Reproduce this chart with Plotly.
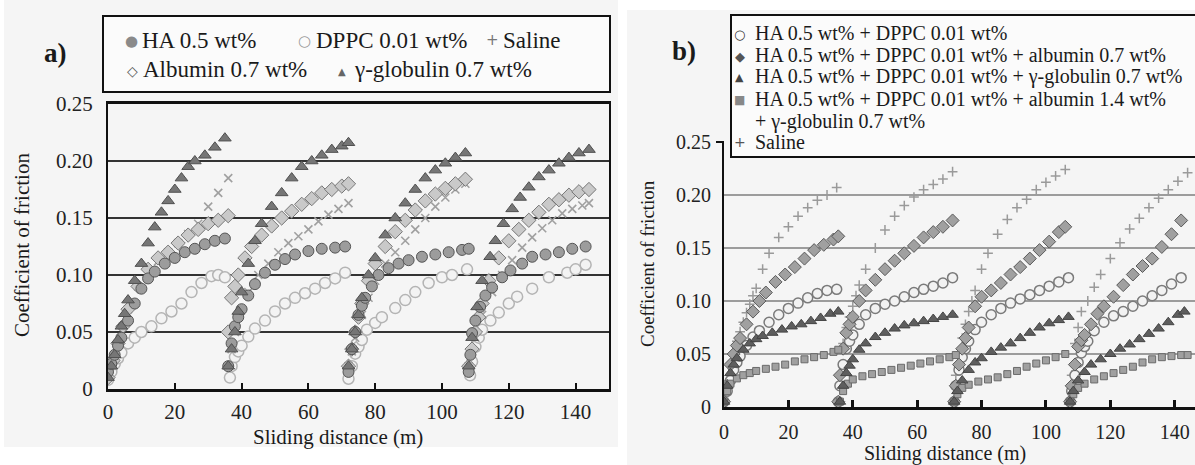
import plotly.graph_objects as go

W, H = 1195, 465
def PX(px):
    return px / W
def PY(py):
    return 1 - py / H

SERIF = "Liberation Serif"
GLYPH = "DejaVu Sans"

# ---------------- Panel a data ----------------
A_HA_x = [0, 1, 2, 3, 4, 6, 8, 10, 12, 14, 17, 20, 23, 26, 29, 32, 35,
          36, 37, 38, 39, 40, 42, 44, 47, 50, 53, 56, 60, 64, 68, 71,
          72, 73, 74, 75, 76, 77, 79, 81, 84, 87, 90, 94, 98, 102, 106, 108,
          108, 108.5, 109, 110, 111.4, 113, 115, 118, 120.5, 124, 127, 131, 135, 139, 143]
A_HA_y = [0.015, 0.022, 0.03, 0.038, 0.045, 0.06, 0.075, 0.088, 0.097, 0.103, 0.11, 0.115, 0.12, 0.123, 0.127, 0.13, 0.132,
          0.02, 0.04, 0.055, 0.063, 0.07, 0.082, 0.092, 0.102, 0.109, 0.114, 0.118, 0.121, 0.123, 0.124, 0.125,
          0.015, 0.035, 0.05, 0.065, 0.073, 0.08, 0.09, 0.1, 0.106, 0.11, 0.113, 0.116, 0.118, 0.12, 0.122, 0.123,
          0.015, 0.03, 0.049, 0.06, 0.072, 0.082, 0.089, 0.098, 0.104, 0.11, 0.116, 0.118, 0.12, 0.123, 0.125]

A_DPPC_x = [0, 1, 2, 3, 4, 6, 8, 10, 13, 16, 19, 22, 25, 28, 31, 33, 35,
            36.5, 37, 38, 39, 40, 42, 44, 47, 50, 53, 56, 59, 62, 65, 68, 71,
            72, 73, 74, 75, 76, 77.5, 80, 82, 86, 89, 92, 96, 100, 103, 107.5,
            108.4, 109, 110, 111, 112, 114.5, 117, 120, 122.5, 127, 132, 137.5, 140, 143]
A_DPPC_y = [0.008, 0.015, 0.022, 0.027, 0.032, 0.04, 0.045, 0.05, 0.055, 0.062, 0.068, 0.075, 0.085, 0.093, 0.099, 0.1, 0.098,
            0.01, 0.02, 0.028, 0.033, 0.038, 0.046, 0.053, 0.06, 0.068, 0.075, 0.08, 0.084, 0.088, 0.093, 0.097, 0.102,
            0.009, 0.02, 0.031, 0.037, 0.043, 0.052, 0.058, 0.063, 0.071, 0.078, 0.085, 0.093, 0.098, 0.1, 0.105,
            0.012, 0.024, 0.037, 0.045, 0.052, 0.06, 0.067, 0.075, 0.081, 0.088, 0.098, 0.102, 0.105, 0.109]

A_SAL_x = [0, 1.5, 3, 4.5, 6, 9, 12, 15, 18, 21, 24, 27, 30, 33, 36,
           36, 37, 38, 40, 42, 45, 48, 51, 54, 57, 60, 63, 66, 69, 72,
           72, 73, 74, 76, 78, 80, 83, 86, 89, 92, 95, 98, 101, 104, 107,
           108, 109, 110, 112, 115, 118, 121, 124, 127, 130, 133, 136, 139, 142, 144]
A_SAL_y = [0.01, 0.025, 0.04, 0.055, 0.07, 0.09, 0.103, 0.112, 0.12, 0.128, 0.136, 0.145, 0.16, 0.172, 0.185,
           0.02, 0.035, 0.05, 0.07, 0.085, 0.1, 0.11, 0.12, 0.128, 0.134, 0.14, 0.147, 0.153, 0.158, 0.163,
           0.02, 0.033, 0.045, 0.065, 0.08, 0.095, 0.11, 0.12, 0.13, 0.14, 0.15, 0.16, 0.168, 0.175, 0.18,
           0.02, 0.033, 0.045, 0.065, 0.085, 0.1, 0.113, 0.124, 0.133, 0.141, 0.148, 0.154, 0.158, 0.161, 0.163]

A_ALB_x = [0, 1.5, 3, 4.5, 6, 9, 12, 15, 18, 21, 24, 27, 30, 33, 36,
           36, 37, 38, 39, 41, 43, 46, 49, 52, 55, 58, 61, 64, 67, 70, 72,
           72, 73, 74, 75, 76, 78, 80, 83, 86, 89, 92, 95, 98, 101, 104, 107,
           108, 109, 110, 111, 112, 114, 117, 120, 123, 126, 129, 132, 135, 138, 141, 144]
A_ALB_y = [0.01, 0.025, 0.04, 0.055, 0.07, 0.09, 0.105, 0.115, 0.12, 0.128, 0.135, 0.14, 0.145, 0.148, 0.152,
           0.05, 0.08, 0.09, 0.1, 0.115, 0.125, 0.135, 0.143, 0.15, 0.156, 0.162, 0.167, 0.172, 0.175, 0.178, 0.18,
           0.02, 0.035, 0.05, 0.063, 0.075, 0.095, 0.11, 0.125, 0.138, 0.148, 0.157, 0.165, 0.171, 0.176, 0.18, 0.184,
           0.02, 0.035, 0.05, 0.063, 0.075, 0.095, 0.115, 0.13, 0.14, 0.148, 0.155, 0.162, 0.166, 0.17, 0.173, 0.175]

A_GAM_x = [0, 1, 2, 3, 4, 5, 6, 8, 10, 12, 14, 16, 18, 20, 22, 24, 26, 29, 32, 35,
           36, 37, 38, 39, 40, 42, 44, 46, 49, 52, 55, 58, 61, 64, 67, 70, 72,
           72, 73, 74, 75, 76, 78, 80, 83, 86, 89, 92, 95, 98, 101, 104, 107,
           108, 109, 110.5, 112, 114.4, 116, 118.4, 121, 123.4, 126, 129, 132, 135, 138, 141, 144]
A_GAM_y = [0.01, 0.02, 0.03, 0.043, 0.055, 0.066, 0.078, 0.095, 0.11, 0.128, 0.142, 0.155, 0.165, 0.175, 0.185, 0.195, 0.2, 0.205, 0.212, 0.22,
           0.02, 0.035, 0.05, 0.068, 0.085, 0.11, 0.13, 0.145, 0.16, 0.172, 0.185, 0.195, 0.2, 0.205, 0.21, 0.213, 0.216,
           0.02, 0.035, 0.05, 0.065, 0.08, 0.1, 0.115, 0.135, 0.15, 0.163, 0.175, 0.185, 0.192, 0.198, 0.203, 0.207,
           0.02, 0.045, 0.072, 0.095, 0.116, 0.13, 0.145, 0.158, 0.168, 0.177, 0.186, 0.192, 0.198, 0.203, 0.207, 0.21]

# ---------------- Panel b data ----------------
B_SAL_x = [0, 1, 2, 3, 4, 5, 6, 7, 8, 9, 10, 12, 14, 17, 20, 23, 26, 29, 32, 35,
           36, 37, 38, 39, 40, 41, 42, 44, 47, 50, 53, 56, 59, 62, 65, 68, 71,
           72, 73, 74, 75, 76, 77, 78, 80, 82, 85, 88, 91, 94, 97, 100, 103, 106,
           108, 109, 110, 111, 113, 115, 117, 120, 123, 126, 129, 132, 135, 138, 141, 144]
B_SAL_y = [0.01, 0.025, 0.04, 0.05, 0.062, 0.071, 0.08, 0.089, 0.097, 0.105, 0.112, 0.13, 0.145, 0.16, 0.17, 0.18, 0.188, 0.195, 0.2, 0.207,
           0.03, 0.06, 0.075, 0.085, 0.095, 0.105, 0.115, 0.13, 0.15, 0.167, 0.18, 0.19, 0.198, 0.205, 0.21, 0.215, 0.222,
           0.03, 0.05, 0.065, 0.078, 0.09, 0.1, 0.11, 0.13, 0.145, 0.163, 0.177, 0.188, 0.196, 0.205, 0.212, 0.218, 0.224,
           0.03, 0.06, 0.075, 0.09, 0.1, 0.113, 0.125, 0.14, 0.155, 0.168, 0.178, 0.188, 0.197, 0.205, 0.213, 0.221]

B_HD_x = [0, 1, 2, 3, 4, 5, 7, 9, 11, 14, 17, 20, 23, 26, 29, 32, 35,
          35.5, 36, 37, 38, 39, 40, 42, 44, 47, 50, 53, 56, 59, 62, 65, 68, 71,
          71.5, 72, 73, 74, 75, 76, 78, 80, 83, 86, 89, 92, 95, 98, 101, 104, 107,
          107.5, 108, 109, 110, 111, 112, 113, 115, 118, 121, 124, 127, 130, 133, 136, 139, 142]
B_HD_y = [0.005, 0.015, 0.025, 0.035, 0.042, 0.048, 0.058, 0.066, 0.072, 0.08, 0.087, 0.093, 0.098, 0.103, 0.107, 0.11, 0.111,
          0.005, 0.02, 0.04, 0.055, 0.062, 0.068, 0.078, 0.087, 0.093, 0.097, 0.1, 0.104, 0.108, 0.111, 0.114, 0.117, 0.122,
          0.005, 0.02, 0.035, 0.047, 0.055, 0.062, 0.073, 0.08, 0.087, 0.093, 0.098, 0.102, 0.106, 0.11, 0.114, 0.118, 0.122,
          0.005, 0.015, 0.03, 0.042, 0.051, 0.057, 0.062, 0.072, 0.08, 0.086, 0.09, 0.095, 0.1, 0.105, 0.11, 0.116, 0.122]

B_ALB_x = [0, 1, 2, 3, 4, 5, 7, 9, 11, 13, 16, 19, 22, 25, 28, 31, 34, 35.5,
           35.5, 36, 37, 38, 39, 40, 42, 44, 47, 50, 53, 56, 59, 62, 65, 68, 71,
           71.5, 72, 73, 74, 75, 76, 78, 80, 83, 86, 89, 92, 95, 98, 101, 104, 106,
           107.5, 108, 109, 110, 111, 112, 114, 116, 118, 121, 124, 127, 130, 133, 136, 139, 142]
B_ALB_y = [0.005, 0.02, 0.04, 0.05, 0.058, 0.065, 0.078, 0.09, 0.1, 0.108, 0.118, 0.125, 0.132, 0.14, 0.148, 0.153, 0.158, 0.161,
           0.005, 0.03, 0.055, 0.07, 0.078, 0.085, 0.1, 0.11, 0.12, 0.13, 0.138, 0.145, 0.152, 0.16, 0.165, 0.17, 0.176,
           0.005, 0.02, 0.04, 0.055, 0.065, 0.075, 0.095, 0.104, 0.11, 0.117, 0.125, 0.132, 0.14, 0.148, 0.156, 0.165, 0.17,
           0.005, 0.02, 0.04, 0.057, 0.063, 0.068, 0.078, 0.088, 0.095, 0.104, 0.115, 0.125, 0.133, 0.14, 0.151, 0.163, 0.176]

B_GAM_x = [0, 1, 2, 3, 4, 6, 8, 10, 12, 15, 18, 21, 24, 27, 30, 33, 35.5,
           36, 37, 38, 39, 40, 42, 44, 47, 50, 53, 56, 59, 62, 65, 68, 71,
           71.5, 72.5, 74, 76, 78, 80, 83, 86, 89, 92, 95, 98, 101, 104, 107,
           107.5, 108.5, 110, 112, 114, 117, 120, 123, 126, 129, 132, 135, 138, 141, 143]
B_GAM_y = [0.005, 0.02, 0.032, 0.04, 0.046, 0.054, 0.06, 0.064, 0.067, 0.07, 0.073, 0.076, 0.078, 0.081, 0.084, 0.088, 0.09,
           0.005, 0.02, 0.032, 0.039, 0.045, 0.054, 0.06, 0.066, 0.07, 0.074, 0.077, 0.079, 0.081, 0.083, 0.085, 0.087,
           0.005, 0.015, 0.025, 0.035, 0.042, 0.046, 0.052, 0.056, 0.06, 0.065, 0.07, 0.075, 0.079, 0.082, 0.085,
           0.005, 0.015, 0.025, 0.033, 0.04, 0.045, 0.05, 0.055, 0.059, 0.064, 0.069, 0.074, 0.08, 0.087, 0.09]

B_MIX_x = [0, 1, 2, 4, 6, 8, 10, 13, 16, 19, 22, 25, 28, 31, 34, 35.5,
           36, 37, 38.5, 40, 43, 46, 49, 52, 55, 58, 61, 64, 67, 70, 72,
           71.5, 72.5, 74, 76, 79, 82, 85, 88, 91, 94, 97, 100, 103, 106,
           107.5, 108.5, 110, 112, 115, 118, 121, 124, 127, 130, 133, 136, 139, 142, 144]
B_MIX_y = [0.005, 0.015, 0.022, 0.027, 0.03, 0.032, 0.034, 0.036, 0.038, 0.04, 0.043, 0.045, 0.047, 0.049, 0.052, 0.054,
           0.005, 0.015, 0.022, 0.026, 0.029, 0.031, 0.033, 0.035, 0.037, 0.039, 0.041, 0.043, 0.045, 0.047, 0.049,
           0.005, 0.012, 0.018, 0.021, 0.024, 0.026, 0.028, 0.031, 0.034, 0.038, 0.041, 0.044, 0.047, 0.05,
           0.005, 0.012, 0.018, 0.022, 0.026, 0.029, 0.032, 0.035, 0.038, 0.042, 0.045, 0.047, 0.048, 0.049, 0.049]

# ---------------- Axis labels / texts ----------------
X_TICKS = [0, 20, 40, 60, 80, 100, 120, 140]
Y_TICKS = [0, 0.05, 0.10, 0.15, 0.20, 0.25]
Y_TICKTEXT = ["0", "0.05", "0.10", "0.15", "0.20", "0.25"]
X_TITLE = "Sliding distance (m)"
Y_TITLE = "Coefficient of friction"

LEG_A = ["HA 0.5 wt%", "DPPC 0.01 wt%", "Saline", "Albumin 0.7 wt%", "γ-globulin 0.7 wt%"]
LEG_B = ["HA 0.5 wt% + DPPC 0.01 wt%",
         "HA 0.5 wt% + DPPC 0.01 wt% + albumin 0.7 wt%",
         "HA 0.5 wt% + DPPC 0.01 wt% + γ-globulin 0.7 wt%",
         "HA 0.5 wt% + DPPC 0.01 wt% + albumin 1.4 wt%",
         "+ γ-globulin 0.7 wt%",
         "Saline"]

fig = go.Figure()

def add(x, y, xa, ya, symbol, size, fill, line, lw):
    fig.add_trace(go.Scatter(
        x=x, y=y, xaxis=xa, yaxis=ya, mode="markers",
        marker=dict(symbol=symbol, size=size, color=fill,
                    line=dict(color=line, width=lw)),
        showlegend=False, hoverinfo="skip"))

# panel a
add(A_DPPC_x, A_DPPC_y, "x", "y", "circle", 11, "#f3f3f3", "#b4b4b4", 1.5)
add(A_SAL_x, A_SAL_y, "x", "y", "x-thin", 8, "#a0a0a0", "#a0a0a0", 1.6)
add(A_ALB_x, A_ALB_y, "x", "y", "diamond", 11, "#c9c9c9", "#777777", 1)
add(A_HA_x, A_HA_y, "x", "y", "circle", 11, "#9c9c9c", "#555555", 1)
add(A_GAM_x, A_GAM_y, "x", "y", "triangle-up", 11, "#767676", "#505050", 1)

# panel b
add(B_SAL_x, B_SAL_y, "x2", "y2", "cross-thin", 7, "#9a9a9a", "#9a9a9a", 1.5)
add(B_HD_x, B_HD_y, "x2", "y2", "circle", 10, "#f2f2f2", "#7a7a7a", 1.5)
add(B_ALB_x, B_ALB_y, "x2", "y2", "diamond", 10, "#a0a0a0", "#5a5a5a", 1)
add(B_MIX_x, B_MIX_y, "x2", "y2", "square", 7, "#a0a0a0", "#6a6a6a", 1)
add(B_GAM_x, B_GAM_y, "x2", "y2", "triangle-up", 10, "#5e5e5e", "#444444", 1)

tickfont_a = dict(family=SERIF, size=21, color="#222")
tickfont_b = dict(family=SERIF, size=20, color="#222")

fig.update_layout(
    width=W, height=H,
    margin=dict(l=0, r=0, t=0, b=0, autoexpand=False),
    paper_bgcolor="#ffffff",
    plot_bgcolor="#f8f8f8",
    showlegend=False,
    xaxis=dict(domain=[PX(108), PX(609)], range=[0, 150], anchor="y", automargin=False,
               showline=True, linecolor="#111", linewidth=2.5, mirror=True,
               ticks="inside", ticklen=6, tickwidth=2, tickcolor="#111",
               tickvals=X_TICKS, tickfont=tickfont_a, showgrid=False, zeroline=False,
               ticklabelstandoff=2),
    yaxis=dict(domain=[PY(389), PY(104)], range=[0, 0.25], anchor="x", automargin=False,
               showline=True, linecolor="#111", linewidth=2, mirror=True,
               ticks="", tickvals=Y_TICKS, ticktext=Y_TICKTEXT, tickfont=tickfont_a,
               showgrid=True, gridcolor="#333333", gridwidth=1.5, zeroline=False,
               ticklabelstandoff=9),
    xaxis2=dict(domain=[PX(724), 1.0], range=[0, 146.3], anchor="y2", automargin=False,
                showline=True, linecolor="#111", linewidth=2.5, mirror=False,
                ticks="inside", ticklen=7, tickwidth=2.5, tickcolor="#111",
                tickvals=X_TICKS, tickfont=tickfont_b, showgrid=False, zeroline=False,
                ticklabelstandoff=5),
    yaxis2=dict(domain=[PY(407), PY(142)], range=[0, 0.25], anchor="x2", automargin=False,
                showline=True, linecolor="#111", linewidth=2, mirror=False,
                ticks="", tickvals=Y_TICKS, ticktext=Y_TICKTEXT, tickfont=tickfont_b,
                showgrid=True, gridcolor="#9c9c9c", gridwidth=1.5, zeroline=False,
                ticklabelstandoff=7),
)

shapes = [
    dict(type="rect", xref="paper", yref="paper", x0=PX(4), x1=PX(618), y0=PY(447), y1=PY(0),
         fillcolor="#f5f5f5", line=dict(width=0), layer="below"),
    dict(type="rect", xref="paper", yref="paper", x0=PX(627), x1=PX(1195), y0=PY(465), y1=PY(10),
         fillcolor="#f5f5f5", line=dict(width=0), layer="below"),
    dict(type="rect", xref="paper", yref="paper", x0=PX(103), x1=PX(610), y0=PY(92), y1=PY(16),
         fillcolor="#fbfbfb", line=dict(color="#111", width=2), layer="above"),
    dict(type="rect", xref="paper", yref="paper", x0=PX(731), x1=PX(1200), y0=PY(157), y1=PY(15),
         fillcolor="#fbfbfb", line=dict(color="#111", width=2), layer="above"),
    dict(type="line", xref="paper", yref="paper", x0=PX(716), x1=PX(724), y0=PY(142), y1=PY(142),
         line=dict(color="#111", width=2), layer="above"),
]
fig.update_layout(shapes=shapes)

ann = []
def text(t, x, y, size, xanchor="left", family=SERIF, color="#1a1a1a", angle=0):
    ann.append(dict(text=t, x=PX(x), y=PY(y), xref="paper", yref="paper",
                    xanchor=xanchor, yanchor="middle", showarrow=False, textangle=angle,
                    font=dict(family=family, size=size, color=color)))

# panel labels
text("<b>a)</b>", 55, 53, 27, "center")
text("<b>b)</b>", 684, 51, 27, "center")

# axis titles
text(Y_TITLE, 22, 245, 21, "center", angle=-90)
text(Y_TITLE, 647, 264, 19, "center", angle=-90)
text(X_TITLE, 338, 437, 21, "center")
text(X_TITLE, 945, 453, 20, "center")

# legend a
LA = 23
text("●", 131, 41, 15, "center", family=GLYPH, color="#8a8a8a")
text(LEG_A[0], 140, 40, LA)
text("○", 304, 41, 15, "center", family=GLYPH, color="#9a9a9a")
text(LEG_A[1], 314, 40, LA)
text("+", 492, 40, 15, "center", family=GLYPH, color="#777")
text(LEG_A[2], 501, 40, LA)
text("◇", 132, 71, 14, "center", family=GLYPH, color="#555")
text(LEG_A[3], 141, 70, LA)
text("▲", 342, 71, 10, "center", family=GLYPH, color="#666")
text(LEG_A[4], 352, 70, LA)

# legend b
LB = 20
rows = [33, 55, 77, 99, 121, 142]
text("○", 740, rows[0] + 1, 13, "center", family=GLYPH, color="#333")
text("◆", 740, rows[1] + 1, 13, "center", family=GLYPH, color="#555")
text("▲", 740, rows[2] + 1, 11, "center", family=GLYPH, color="#444")
text("■", 740, rows[3] + 1, 12, "center", family=GLYPH, color="#888")
text("+", 740, rows[5], 14, "center", family=GLYPH, color="#555")
for i, t in enumerate(LEG_B):
    text(t, 753, rows[i], LB)

fig.update_layout(annotations=ann)

fig.write_html("out.html",
               config={"displayModeBar": False},
               post_script="document.body.style.margin='0px';document.body.style.overflow='hidden';")
